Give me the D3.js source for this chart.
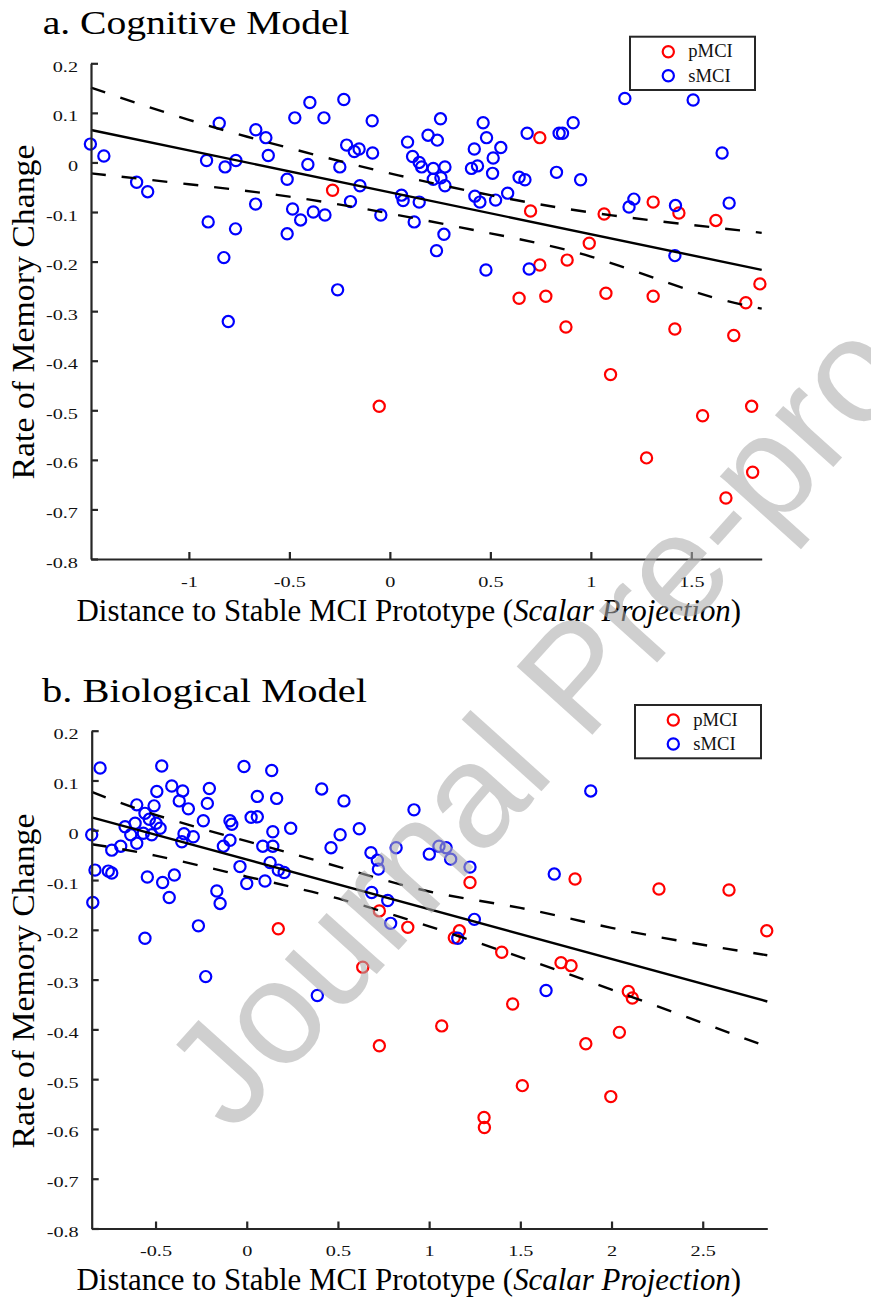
<!DOCTYPE html>
<html><head><meta charset="utf-8">
<script src="https://cdn.jsdelivr.net/npm/d3@7/dist/d3.min.js"></script>
<style>body{margin:0;background:#fff}svg{display:block}</style>
</head><body>
<svg id="chart" width="871" height="1301"></svg>
<script>
// ---------------- DATA ----------------
const groups = ["pMCI", "sMCI"];
const yTicks = [0.2, 0.1, 0, -0.1, -0.2, -0.3, -0.4, -0.5, -0.6, -0.7, -0.8];

// a. Cognitive Model
const cogXTicks = [-1, -0.5, 0, 0.5, 1, 1.5];
const cogXDomain = [-1.487, 1.85];
const cogPMCI = [[-0.285,-0.056],[-0.053,-0.492],[0.746,0.05],[0.70,-0.098],[0.746,-0.207],[0.882,-0.197],[0.643,-0.274],[0.776,-0.27],[1.31,-0.08],[1.438,-0.102],[1.066,-0.104],[1.622,-0.117],[0.992,-0.163],[1.075,-0.264],[1.31,-0.27],[1.841,-0.245],[1.771,-0.283],[0.876,-0.332],[1.418,-0.336],[1.711,-0.349],[1.098,-0.428],[1.556,-0.511],[1.80,-0.492],[1.277,-0.596],[1.805,-0.625],[1.672,-0.677]];
const cogSMCI = [[-1.49,0.037],[-1.423,0.013],[-1.26,-0.04],[-1.205,-0.059],[-0.849,0.079],[-0.912,0.004],[-0.82,-0.009],[-0.766,0.004],[-0.904,-0.12],[-0.768,-0.134],[-0.826,-0.192],[-0.804,-0.321],[-0.667,0.066],[-0.617,0.05],[-0.605,0.014],[-0.668,-0.084],[-0.473,0.09],[-0.398,0.121],[-0.328,0.09],[-0.408,-0.004],[-0.511,-0.034],[-0.484,-0.094],[-0.444,-0.116],[-0.381,-0.10],[-0.323,-0.106],[-0.511,-0.144],[-0.26,-0.257],[-0.229,0.127],[-0.088,0.084],[0.252,0.088],[0.464,0.08],[0.683,0.059],[0.842,0.059],[0.859,0.059],[-0.215,0.035],[-0.177,0.022],[-0.153,0.027],[-0.086,0.019],[0.088,0.041],[0.113,0.012],[0.146,0.0],[0.158,-0.009],[0.19,0.055],[0.236,0.045],[0.216,-0.012],[0.216,-0.034],[0.254,-0.031],[0.274,-0.009],[0.274,-0.047],[0.42,0.027],[0.481,0.05],[0.552,0.03],[0.514,0.009],[0.406,-0.012],[0.436,-0.007],[0.511,-0.022],[0.643,-0.03],[0.672,-0.035],[0.829,-0.02],[-0.249,-0.009],[-0.149,-0.047],[-0.196,-0.079],[-0.045,-0.106],[0.058,-0.066],[0.066,-0.077],[0.146,-0.08],[0.121,-0.12],[0.269,-0.145],[0.232,-0.178],[0.423,-0.068],[0.448,-0.08],[0.526,-0.076],[0.586,-0.062],[0.478,-0.217],[0.693,-0.215],[1.169,0.129],[1.509,0.126],[0.912,0.08],[1.653,0.019],[0.949,-0.035],[1.214,-0.074],[1.19,-0.09],[1.421,-0.087],[1.688,-0.082],[1.418,-0.188]];
const cogFitX = [-1.487, 1.85];
const cogFitY = [0.0655, -0.2167];
const cogBandX = [-1.487, -1.0, -0.5, 0, 0.5, 1.0, 1.5, 1.85];
const cogUpper = [0.151, 0.086, 0.029, -0.022, -0.066, -0.101, -0.126, -0.142];
const cogLower = [-0.022, -0.044, -0.069, -0.103, -0.143, -0.190, -0.259, -0.295];

// b. Biological Model
const bioXTicks = [-0.5, 0, 0.5, 1, 1.5, 2, 2.5];
const bioXDomain = [-0.85, 2.854];
const bioPMCI = [[0.173,-0.198],[0.636,-0.275],[0.727,-0.433],[1.224,-0.105],[1.80,-0.098],[0.727,-0.162],[0.883,-0.195],[1.166,-0.202],[1.138,-0.216],[1.398,-0.245],[1.723,-0.266],[1.778,-0.272],[2.092,-0.324],[2.114,-0.337],[1.458,-0.349],[1.069,-0.393],[2.043,-0.406],[1.859,-0.429],[1.511,-0.513],[1.996,-0.535],[1.301,-0.577],[1.303,-0.597],[2.26,-0.118],[2.644,-0.12],[2.851,-0.202]];
const bioSMCI = [[-0.804,0.125],[-0.466,0.129],[-0.85,-0.009],[-0.832,-0.08],[-0.844,-0.145],[-0.759,-0.082],[-0.74,-0.086],[-0.74,-0.04],[-0.691,-0.032],[-0.667,0.007],[-0.603,0.051],[-0.612,0.014],[-0.636,-0.009],[-0.603,-0.026],[-0.558,0.034],[-0.534,0.022],[-0.508,0.049],[-0.493,0.078],[-0.497,0.014],[-0.475,0.004],[-0.521,-0.009],[-0.567,-0.006],[-0.411,0.089],[-0.351,0.079],[-0.37,0.059],[-0.32,0.043],[-0.344,-0.007],[-0.356,-0.023],[-0.293,-0.013],[-0.545,-0.094],[-0.461,-0.105],[-0.397,-0.09],[-0.425,-0.135],[-0.558,-0.217],[-0.205,0.084],[-0.216,0.054],[-0.238,0.019],[-0.092,0.019],[-0.082,0.012],[-0.092,-0.02],[-0.128,-0.032],[-0.037,-0.073],[-0.015,0.128],[0.137,0.12],[0.058,0.068],[0.164,0.064],[0.024,0.026],[0.058,0.027],[0.241,0.004],[0.143,-0.003],[0.088,-0.032],[0.143,-0.032],[0.128,-0.065],[0.173,-0.08],[0.205,-0.085],[0.0,-0.107],[0.1,-0.102],[-0.164,-0.122],[-0.146,-0.147],[-0.265,-0.192],[0.411,0.083],[-0.225,-0.294],[0.387,-0.332],[0.533,0.059],[0.917,0.041],[0.512,-0.009],[0.617,0.003],[0.462,-0.035],[0.681,-0.045],[0.716,-0.06],[0.722,-0.078],[0.819,-0.035],[1.001,-0.048],[1.054,-0.032],[1.093,-0.035],[1.118,-0.058],[1.224,-0.074],[1.686,-0.088],[0.685,-0.125],[0.773,-0.141],[0.789,-0.187],[1.248,-0.179],[1.157,-0.217],[1.641,-0.322],[1.886,0.079]];
const bioFitX = [-0.85, 2.854];
const bioFitY = [0.026, -0.344];
const bioBandX = [-0.85, -0.5, 0, 0.5, 1.0, 1.5, 2.0, 2.5, 2.854];
const bioUpper = [0.077, 0.031, -0.022, -0.073, -0.123, -0.156, -0.196, -0.230, -0.251];
const bioLower = [-0.028, -0.051, -0.093, -0.137, -0.193, -0.255, -0.320, -0.387, -0.435];

const titles = ["a. Cognitive Model", "b. Biological Model"];
const yLabel = "Rate of Memory Change";
const xLabelParts = [["Distance to Stable MCI Prototype (", false], ["Scalar Projection", true], [")", false]];
const watermark = "Journal Pre-proof";

// ---------------- DRAWING ----------------
const svg = d3.select("#chart");
const SERIF = "'Liberation Serif','Times New Roman',Times,serif";
const AX = "#262626";
const colorOf = {pMCI: "#ff0000", sMCI: "#0000ff"};

function fitText(t, x, y, width, rot, fixedScale) {
  const L = t.node().getComputedTextLength();
  const sx = width ? width / L : (fixedScale || 1);
  t.attr("x", 0).attr("y", 0)
   .attr("transform", `translate(${x},${y})` + (rot ? ` rotate(${rot})` : "") + ` scale(${sx},1)`);
}

const fmt = d => (Math.abs(d) < 1e-9 ? "0" : String(d));

function drawPanel(cfg) {
  const x = d3.scaleLinear().domain(cfg.xDomain).range([cfg.left, cfg.right]);
  const y = d3.scaleLinear().domain([-0.8, 0.2]).range([cfg.bottom, cfg.top]);
  const g = svg.append("g");

  // scatter points
  const series = [["pMCI", cfg.p], ["sMCI", cfg.s]];
  series.forEach(([name, pts]) => {
    g.append("g").selectAll("circle").data(pts).join("circle")
      .attr("cx", d => x(d[0])).attr("cy", d => y(d[1])).attr("r", 5.6)
      .attr("fill", "none").attr("stroke", colorOf[name]).attr("stroke-width", 2.2);
  });

  // fit line + confidence bands
  const fit = cfg.fitX.map((v, i) => [v, cfg.fitY[i]]);
  g.append("path").datum(fit)
    .attr("d", d3.line().x(d => x(d[0])).y(d => y(d[1])))
    .attr("fill", "none").attr("stroke", "#000").attr("stroke-width", 2.4);
  [cfg.upper, cfg.lower].forEach(arr => {
    const pts = cfg.bandX.map((v, i) => [v, arr[i]]);
    g.append("path").datum(pts)
      .attr("d", d3.line().curve(d3.curveNatural).x(d => x(d[0])).y(d => y(d[1])))
      .attr("fill", "none").attr("stroke", "#000").attr("stroke-width", 2.4)
      .attr("stroke-dasharray", "15,16");
  });

  // axes
  const yAxis = d3.axisLeft(y).tickValues(yTicks).tickFormat(fmt)
    .tickSizeInner(-7).tickSizeOuter(0).tickPadding(13);
  const xAxis = d3.axisBottom(x).tickValues(cfg.xTicks).tickFormat(fmt)
    .tickSizeInner(-7).tickSizeOuter(0).tickPadding(0);
  const ya = g.append("g").attr("transform", `translate(${cfg.left},0)`).call(yAxis);
  const xa = g.append("g").attr("transform", `translate(0,${cfg.bottom})`).call(xAxis);
  [ya, xa].forEach(a => {
    a.attr("font-family", SERIF).attr("font-size", 15);
    a.select(".domain").attr("stroke", AX).attr("stroke-width", 2.2);
    a.selectAll(".tick line").attr("stroke", AX).attr("stroke-width", 2.2);
    a.selectAll(".tick text").attr("fill", "#111").attr("dy", null);
  });
  ya.selectAll(".tick text").each(function () { fitText(d3.select(this), -13, 8, null, 0, 1.35); });
  xa.selectAll(".tick text").each(function () { fitText(d3.select(this), 0, 27.7, null, 0, 1.35); });

  // legend
  const lg = g.append("g");
  lg.append("rect").attr("x", cfg.leg.x0).attr("y", cfg.leg.y0)
    .attr("width", cfg.leg.x1 - cfg.leg.x0).attr("height", cfg.leg.y1 - cfg.leg.y0)
    .attr("fill", "#fff").attr("stroke", AX).attr("stroke-width", 2);
  groups.forEach((name, i) => {
    lg.append("circle").attr("cx", cfg.leg.mx).attr("cy", cfg.leg.my[i]).attr("r", 5.6)
      .attr("fill", "none").attr("stroke", colorOf[name]).attr("stroke-width", 2.2);
    lg.append("text").attr("x", cfg.leg.tx).attr("y", cfg.leg.ty[i])
      .attr("font-family", SERIF).attr("font-size", 18.6).attr("fill", "#111").text(name);
  });

  // title
  const t = svg.append("text").attr("font-family", SERIF).attr("font-size", 33).attr("fill", "#000")
    .text(cfg.title);
  fitText(t, cfg.titleX, cfg.titleY, cfg.titleW, 0);

  // y label
  const yl = svg.append("text").attr("font-family", SERIF).attr("font-size", 32)
    .attr("text-anchor", "middle").attr("fill", "#000").text(yLabel);
  fitText(yl, 34, cfg.yLabelY, 335, -90);

  // x label
  const xl = svg.append("text").attr("font-family", SERIF).attr("font-size", 32).attr("fill", "#000");
  xLabelParts.forEach(([s, it]) => xl.append("tspan").attr("font-style", it ? "italic" : "normal").text(s));
  fitText(xl, 76.5, cfg.xLabelY, 665, 0);
}

drawPanel({
  xDomain: cogXDomain, xTicks: cogXTicks, left: 91, right: 761.7, top: 63.3, bottom: 559,
  p: cogPMCI, s: cogSMCI, fitX: cogFitX, fitY: cogFitY, bandX: cogBandX, upper: cogUpper, lower: cogLower,
  leg: {x0: 630, x1: 755, y0: 36.7, y1: 90, mx: 668.3, my: [51.7, 75.7], tx: 688.3, ty: [57.3, 81.7]},
  title: titles[0], titleX: 42.7, titleY: 34.3, titleW: 307,
  yLabelY: 312, xLabelY: 620.7
});
drawPanel({
  xDomain: bioXDomain, xTicks: bioXTicks, left: 91.7, right: 767.3, top: 730.7, bottom: 1228.5,
  p: bioPMCI, s: bioSMCI, fitX: bioFitX, fitY: bioFitY, bandX: bioBandX, upper: bioUpper, lower: bioLower,
  leg: {x0: 635, x1: 761, y0: 705, y1: 758.3, mx: 673.3, my: [720, 744], tx: 693.3, ty: [725.7, 750]},
  title: titles[1], titleX: 42, titleY: 701.5, titleW: 325,
  yLabelY: 981, xLabelY: 1290
});

// watermark
svg.append("text").attr("font-family", "'Liberation Sans',Arial,sans-serif").attr("font-size", 148)
  .attr("fill", "#acacac").attr("fill-opacity", 0.58)
  .attr("transform", "translate(232,1135) rotate(-48)").text(watermark);
</script>
</body></html>
